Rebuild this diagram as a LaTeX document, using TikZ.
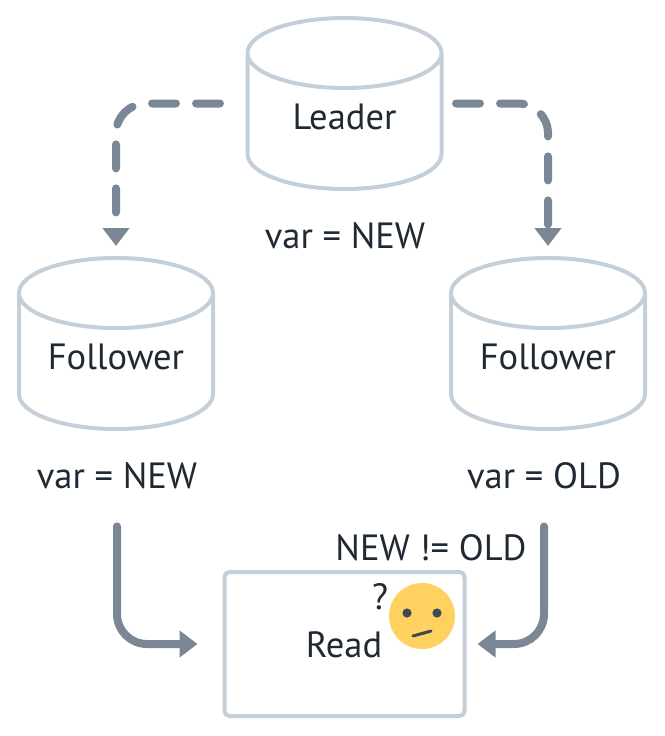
\documentclass[tikz,border=0pt]{standalone}
\usepackage{fontspec}
\setmainfont{PT Sans}
\usetikzlibrary{arrows.meta,shapes.geometric}
\definecolor{dbline}{HTML}{C4CFD9}
\definecolor{arrowgrey}{HTML}{7B8794}
\definecolor{inkdark}{HTML}{1F2933}
\definecolor{facey}{HTML}{FFD260}
\tikzset{
	dbnode/.style={cylinder, shape border rotate=90, aspect=0.5, anchor=shape center, draw=dbline, line width=4pt, inner sep=0pt, outer sep=0pt, minimum width=194pt, minimum height=171pt, text width=140pt, align=center, text height=14pt, text depth=0pt, text=inkdark, font=\fontsize{36.5}{36.5}\selectfont},
	label/.style={text=inkdark, inner sep=0pt, font=\fontsize{36.5}{36.5}\selectfont},
	replarrow/.style={draw=arrowgrey, line width=8pt, line cap=round, rounded corners=30pt, dash pattern=on 24pt off 20pt, -{Triangle[length=18pt,width=26pt]}},
	readarrow/.style={draw=arrowgrey, line width=8pt, line cap=round, rounded corners=30pt, -{Triangle[length=18pt,width=26pt]}}
}

\begin{document}
\begin{tikzpicture}[x=1pt,y=-1pt]
	\useasboundingbox (0,0) rectangle (664,736);
	\node[dbnode] (leader) at (344.5,103.5) {Leader};
	\node[dbnode] (followerl) at (116,343.5) {Follower};
	\node[dbnode] (followerr) at (548,343.5) {Follower};
	\node[label] (varleader) at (345,236) {var = NEW};
	\node[label] (varl) at (117,476) {var = NEW};
	\node[label] (varr) at (544,476) {var = OLD};
	\node[draw=dbline, line width=4pt, rounded corners=5pt, inner sep=0pt, outer sep=0pt, minimum width=240pt, minimum height=144pt] (read) at (344.5,644) {};
	\node[label] (readtext) at (344,645) {Read};
	\node[label] (diff) at (431,548) {NEW != OLD};
	\node[label] (qmark) at (380,597) {?};
	% confused face
	\node[circle, fill=facey, minimum size=66pt, inner sep=0pt] (face) at (422,616) {};
	\fill[inkdark!85] (407,613) circle (4.6pt);
	\fill[inkdark!85] (437,613) circle (4.6pt);
	\draw[inkdark!85, line width=3pt, line cap=round] (413,636) -- (431,631);
	% arrows
	\draw[replarrow, shorten <=124.5pt, shorten >=12pt] (leader.shape center) -| (followerl.north);
	\draw[replarrow, shorten <=111.5pt, shorten >=12pt] (leader.shape center) -| (followerr.north);
	\draw[readarrow, shorten <=37pt, shorten >=27pt] (varl.south) |- (read.west);
	\draw[readarrow, shorten <=37pt, shorten >=13pt] (varr.south) |- (read.east);
\end{tikzpicture}
\end{document}
